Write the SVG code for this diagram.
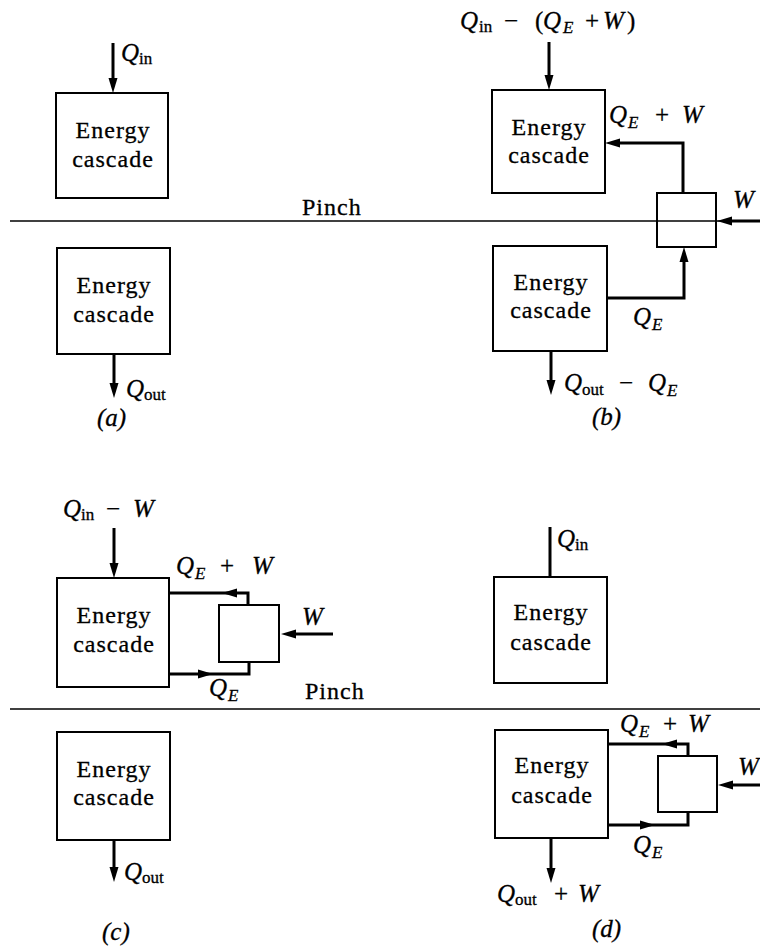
<svg xmlns="http://www.w3.org/2000/svg" xmlns:xlink="http://www.w3.org/1999/xlink" width="760" height="951" viewBox="0 0 760 951">
<style>
  .box{fill:#fff;stroke:#000;stroke-width:2}
  .hp{fill:none;stroke:#000;stroke-width:2}
  .ln{fill:none;stroke:#000;stroke-width:3}
  .pinch{stroke:#000;stroke-width:1.6}
  .t{font-size:24px;letter-spacing:1px;fill:#000;stroke:#000;stroke-width:0.3}
  .c{text-anchor:middle}
  .m{font-size:25px;fill:#000;stroke:#000;stroke-width:0.3}
  .i{font-style:italic}
  .s{font-size:17px;font-style:normal}
  .si{font-size:17px;font-style:italic}
</style>
<defs>
  <path id="ah" d="M0,0 L-15,-4.5 L-15,4.5 Z" fill="#000"/>
</defs>
<rect width="760" height="951" fill="#fff"/>

<g font-family="'Liberation Serif', 'DejaVu Serif', 'Times New Roman', serif">
<g id="pinch-lines">
  <line class="pinch" x1="10" y1="221" x2="760" y2="221"/>
  <line class="pinch" x1="10" y1="709" x2="760" y2="709"/>
  <text class="t" x="302" y="215">Pinch</text>
  <text class="t" x="305" y="699">Pinch</text>
</g>

<g id="a-top"><rect class="box" x="56" y="93" width="112" height="105"/>
  <text class="t c" x="113" y="138">Energy</text><text class="t c" x="113" y="167">cascade</text></g>
<g id="a-bottom"><rect class="box" x="57" y="248" width="113" height="106"/>
  <text class="t c" x="114" y="293">Energy</text><text class="t c" x="114" y="322">cascade</text></g>

<g id="b-top"><rect class="box" x="492" y="90" width="113" height="103"/>
  <text class="t c" x="549" y="135">Energy</text><text class="t c" x="549" y="163">cascade</text></g>
<g id="b-pump"><rect class="hp" x="657" y="193" width="59" height="54"/></g>
<g id="b-bottom"><rect class="box" x="493" y="246" width="114" height="105"/>
  <text class="t c" x="551" y="290">Energy</text><text class="t c" x="551" y="318">cascade</text></g>

<g id="c-top"><rect class="box" x="57" y="578" width="112" height="109"/>
  <text class="t c" x="114" y="623">Energy</text><text class="t c" x="114" y="652">cascade</text></g>
<g id="c-pump"><rect class="hp" x="219" y="605" width="60" height="57"/></g>
<g id="c-bottom"><rect class="box" x="57" y="732" width="113" height="108"/>
  <text class="t c" x="114" y="777">Energy</text><text class="t c" x="114" y="805">cascade</text></g>

<g id="d-top"><rect class="box" x="494" y="577" width="113" height="106"/>
  <text class="t c" x="551" y="620">Energy</text><text class="t c" x="551" y="650">cascade</text></g>
<g id="d-pump"><rect class="hp" x="658" y="756" width="59" height="56"/></g>
<g id="d-bottom"><rect class="box" x="495" y="730" width="113" height="108"/>
  <text class="t c" x="552" y="773">Energy</text><text class="t c" x="552" y="803">cascade</text></g>

<g id="connectors">
  <line class="ln" x1="113" y1="43" x2="113" y2="86"/>
  <use xlink:href="#ah" transform="translate(113,93) rotate(90)"/>
  <line class="ln" x1="114" y1="354" x2="114" y2="391"/>
  <use xlink:href="#ah" transform="translate(114,398) rotate(90)"/>
  <line class="ln" x1="549" y1="42" x2="549" y2="83"/>
  <use xlink:href="#ah" transform="translate(549,90) rotate(90)"/>
  <path class="ln" d="M683,193 V143 H612"/>
  <use xlink:href="#ah" transform="translate(605,143) rotate(180)"/>
  <line class="ln" x1="760" y1="221" x2="724" y2="221"/>
  <use xlink:href="#ah" transform="translate(717,221) rotate(180)"/>
  <path class="ln" d="M607,298 H684 V254"/>
  <use xlink:href="#ah" transform="translate(684,247) rotate(-90)"/>
  <line class="ln" x1="551" y1="351" x2="551" y2="388"/>
  <use xlink:href="#ah" transform="translate(551,395) rotate(90)"/>
  <line class="ln" x1="114" y1="528" x2="114" y2="571"/>
  <use xlink:href="#ah" transform="translate(114,578) rotate(90)"/>
  <path class="ln" d="M248,605 V593 H169"/>
  <use xlink:href="#ah" transform="translate(222,593) rotate(180)"/>
  <line class="ln" x1="333" y1="634" x2="288" y2="634"/>
  <use xlink:href="#ah" transform="translate(281,634) rotate(180)"/>
  <path class="ln" d="M169,674 H249 V662"/>
  <use xlink:href="#ah" transform="translate(213,674)"/>
  <line class="ln" x1="114" y1="840" x2="114" y2="875"/>
  <use xlink:href="#ah" transform="translate(114,882) rotate(90)"/>
  <line class="ln" x1="550" y1="527" x2="550" y2="577"/>
  <path class="ln" d="M688,756 V744 H608"/>
  <use xlink:href="#ah" transform="translate(662,744) rotate(180)"/>
  <line class="ln" x1="760" y1="785" x2="725" y2="785"/>
  <use xlink:href="#ah" transform="translate(718,785) rotate(180)"/>
  <path class="ln" d="M608,825 H688 V812"/>
  <use xlink:href="#ah" transform="translate(655,825)"/>
  <line class="ln" x1="551" y1="838" x2="551" y2="876"/>
  <use xlink:href="#ah" transform="translate(551,883) rotate(90)"/>
</g>

<g id="labels">
  <text class="m"><tspan class="i" x="121" y="61">Q</tspan><tspan class="s" x="139" y="64">in</tspan></text>
  <text class="m"><tspan class="i" x="126" y="397">Q</tspan><tspan class="s" x="144" y="400">out</tspan></text>
  <text class="m i" x="97" y="426">(a)</text>
  <text class="m"><tspan class="i" x="460" y="29">Q</tspan><tspan class="s" x="479" y="32">in</tspan><tspan x="504" y="29">−</tspan><tspan x="535" y="29">(</tspan><tspan class="i" x="543" y="29">Q</tspan><tspan class="si" x="563" y="33">E</tspan><tspan x="585" y="29">+</tspan><tspan class="i" x="603" y="29">W</tspan><tspan x="627" y="29">)</tspan></text>
  <text class="m"><tspan class="i" x="609" y="123">Q</tspan><tspan class="si" x="628" y="128">E</tspan><tspan x="655" y="123">+</tspan><tspan class="i" x="682" y="123">W</tspan></text>
  <text class="m i" x="733" y="208">W</text>
  <text class="m"><tspan class="i" x="633" y="325">Q</tspan><tspan class="si" x="652" y="330">E</tspan></text>
  <text class="m"><tspan class="i" x="564" y="391">Q</tspan><tspan class="s" x="582" y="395">out</tspan><tspan x="619" y="391">−</tspan><tspan class="i" x="648" y="391">Q</tspan><tspan class="si" x="667" y="396">E</tspan></text>
  <text class="m i" x="592" y="425">(b)</text>
  <text class="m"><tspan class="i" x="63" y="517">Q</tspan><tspan class="s" x="81" y="520">in</tspan><tspan x="106" y="517">−</tspan><tspan class="i" x="133" y="517">W</tspan></text>
  <text class="m"><tspan class="i" x="176" y="574">Q</tspan><tspan class="si" x="195" y="579">E</tspan><tspan x="220" y="574">+</tspan><tspan class="i" x="252" y="574">W</tspan></text>
  <text class="m i" x="302" y="625">W</text>
  <text class="m"><tspan class="i" x="209" y="696">Q</tspan><tspan class="si" x="228" y="701">E</tspan></text>
  <text class="m"><tspan class="i" x="124" y="880">Q</tspan><tspan class="s" x="142" y="883">out</tspan></text>
  <text class="m i" x="102" y="940">(c)</text>
  <text class="m"><tspan class="i" x="557" y="547">Q</tspan><tspan class="s" x="575" y="550">in</tspan></text>
  <text class="m"><tspan class="i" x="620" y="732">Q</tspan><tspan class="si" x="639" y="737">E</tspan><tspan x="663" y="732">+</tspan><tspan class="i" x="688" y="732">W</tspan></text>
  <text class="m i" x="738" y="775">W</text>
  <text class="m"><tspan class="i" x="633" y="853">Q</tspan><tspan class="si" x="652" y="858">E</tspan></text>
  <text class="m"><tspan class="i" x="497" y="902">Q</tspan><tspan class="s" x="515" y="905">out</tspan><tspan x="554" y="902">+</tspan><tspan class="i" x="578" y="902">W</tspan></text>
  <text class="m i" x="592" y="937">(d)</text>
</g>
</g>
</svg>
